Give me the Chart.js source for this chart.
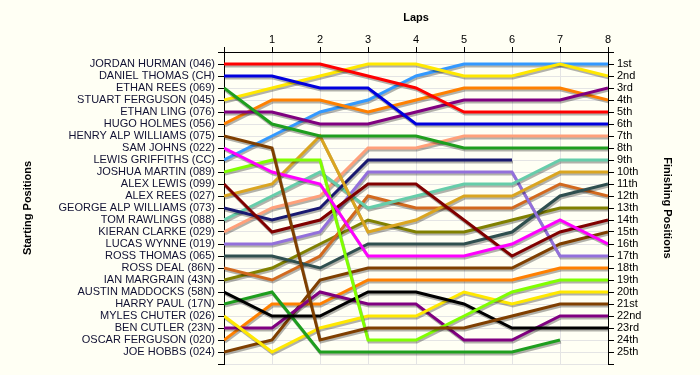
<!DOCTYPE html>
<html>
<head>
<meta charset="utf-8">
<script src="https://cdn.jsdelivr.net/npm/chart.js@4.4.1/dist/chart.umd.min.js"></script>
<style>
    html, body { margin: 0; padding: 0; background: #FFFFF4; }
    #wrap { width: 700px; height: 375px; }
</style>
</head>
<body>
<div id="wrap"><canvas id="lapChart"></canvas></div>
<script>
// Lap numbers (0 = grid / starting order)
const laps = [0, 1, 2, 3, 4, 5, 6, 7, 8];

// Drivers in starting order
const drivers = [
    'JORDAN HURMAN (046)', 'DANIEL THOMAS (CH)', 'ETHAN REES (069)', 'STUART FERGUSON (045)',
    'ETHAN LING (076)', 'HUGO HOLMES (056)', 'HENRY ALP WILLIAMS (075)', 'SAM JOHNS (022)',
    'LEWIS GRIFFITHS (CC)', 'JOSHUA MARTIN (089)', 'ALEX LEWIS (099)', 'ALEX REES (027)',
    'GEORGE ALP WILLIAMS (073)', 'TOM RAWLINGS (088)', 'KIERAN CLARKE (029)', 'LUCAS WYNNE (019)',
    'ROSS THOMAS (065)', 'ROSS DEAL (86N)', 'IAN MARGRAIN (43N)', 'AUSTIN MADDOCKS (58N)',
    'HARRY PAUL (17N)', 'MYLES CHUTER (026)', 'BEN CUTLER (23N)', 'OSCAR FERGUSON (020)',
    'JOE HOBBS (024)'
];

// Finishing position labels (right axis)
const finishLabels = [
    '1st', '2nd', '3rd', '4th', '5th', '6th', '7th', '8th', '9th', '10th',
    '11th', '12th', '13th', '14th', '15th', '16th', '17th', '18th', '19th', '20th',
    '21st', '22nd', '23rd', '24th', '25th'
];

// Position of each driver at the end of each lap (null = retired)
const positions = [
    [1, 1, 1, 2, 3, 5, 5, 5, 5],
    [2, 2, 3, 3, 6, 6, 6, 6, 6],
    [3, 6, 7, 7, 7, 8, 8, 8, 8],
    [4, 3, 2, 1, 1, 2, 2, 1, 2],
    [5, 5, 6, 6, 5, 4, 4, 4, 3],
    [6, 4, 4, 5, 4, 3, 3, 3, 4],
    [7, 8, 24, 23, 23, 23, 22, 21, 21],
    [8, 10, 11, 17, 17, 17, 16, 14, 16],
    [9, 7, 5, 4, 2, 1, 1, 1, 1],
    [10, 9, 9, 24, 24, 22, 20, 19, 19],
    [11, 15, 14, 11, 11, 14, 17, 15, 14],
    [12, 11, 7, 15, 14, 12, 12, 10, 10],
    [13, 14, 13, 9, 9, 9, 9, null, null],
    [14, 12, 10, 13, 12, 11, 11, 9, 9],
    [15, 13, 12, 8, 8, 7, 7, 7, 7],
    [16, 16, 15, 10, 10, 10, 10, 17, 17],
    [17, 17, 18, 16, 16, 16, 15, 12, 11],
    [18, 19, 17, 12, 13, 13, 13, 11, 12],
    [19, 18, 16, 14, 15, 15, 14, 13, 13],
    [20, 22, 22, 20, 20, 21, 23, 23, 23],
    [21, 20, 25, 25, 25, 25, 25, 24, null],
    [22, 25, 23, 22, 22, 20, 21, 20, 20],
    [23, 23, 20, 21, 21, 24, 24, 22, 22],
    [24, 21, 21, 19, 19, 19, 19, 18, 18],
    [25, 24, 19, 18, 18, 18, 18, 16, 15]
];

// Line colour for each driver
const lineColors = [
    '#FF0000', '#0000DD', '#1E9E1E', '#FFE800', '#800080',
    '#FF8000', '#7F3F00', '#FF00FF', '#3399FF', '#80FF00',
    '#800000', '#DAA520', '#191970', '#66CDAA', '#FFA07A',
    '#9370DB', '#2F4F4F', '#D2691E', '#808000', '#000000',
    '#1E9E1E', '#FFE800', '#800080', '#FF8000', '#7F3F00'
];

const FONT = "'Liberation Sans', Arial, sans-serif";
const GRID = '#E4E4E4';

// cream background behind everything
const bgPlugin = {
    id: 'bg',
    beforeDraw(chart) {
        const ctx = chart.ctx;
        ctx.save();
        ctx.fillStyle = '#FFFFF4';
        ctx.fillRect(0, 0, chart.width, chart.height);
        ctx.restore();
    }
};

// grey drop shadow under the lines
const shadowPlugin = {
    id: 'lineShadow',
    beforeDatasetsDraw(chart) {
        const ctx = chart.ctx;
        ctx.save();
        ctx.shadowColor = 'rgba(0, 0, 0, 0.3)';
        ctx.shadowOffsetX = 1;
        ctx.shadowOffsetY = 2;
        ctx.shadowBlur = 0;
    },
    afterDatasetsDraw(chart) {
        chart.ctx.restore();
    }
};

const datasets = drivers.map((name, i) => ({
    label: name,
    data: positions[i],
    borderColor: lineColors[i],
    borderWidth: 3,
    pointRadius: 0,
    tension: 0,
    fill: false
}));

const PAD = { left: 17, right: 22, top: 7, bottom: 11 };

new Chart(document.getElementById('lapChart'), {
    type: 'line',
    data: { labels: laps, datasets: datasets },
    plugins: [bgPlugin, shadowPlugin],
    options: {
        responsive: true,
        maintainAspectRatio: false,
        animation: false,
        layout: { padding: PAD },
        plugins: {
            legend: { display: false },
            tooltip: { enabled: false }
        },
        scales: {
            x: {
                type: 'linear',
                position: 'top',
                min: 0,
                max: 8,
                afterFit(scale) { scale.height = 52 - PAD.top; },
                ticks: {
                    stepSize: 1,
                    padding: 0,
                    color: '#000',
                    font: { family: FONT, size: 11 },
                    callback: v => (v === 0 ? '' : v)
                },
                grid: { color: GRID, tickColor: '#000', tickLength: 5 },
                border: { color: '#000', width: 1 },
                title: {
                    display: true,
                    text: 'Laps',
                    color: '#000',
                    font: { family: FONT, size: 11, weight: 'bold' }
                }
            },
            y: {
                type: 'linear',
                position: 'left',
                reverse: true,
                min: 0,
                max: 26,
                afterFit(scale) { scale.width = 224 - PAD.left; },
                afterBuildTicks(scale) {
                    scale.ticks = [];
                    for (let v = 0; v <= 26; v++) scale.ticks.push({ value: v });
                },
                ticks: {
                    autoSkip: false,
                    padding: 3,
                    color: '#111133',
                    font: { family: FONT, size: 11 },
                    callback: v => drivers[v - 1] || ''
                },
                grid: { color: GRID, tickColor: '#000', tickLength: 6 },
                border: { color: '#000', width: 1 },
                title: {
                    display: true,
                    text: 'Starting Positions',
                    color: '#000',
                    font: { family: FONT, size: 11, weight: 'bold' }
                }
            },
            y2: {
                type: 'linear',
                position: 'right',
                reverse: true,
                min: 0,
                max: 26,
                afterFit(scale) { scale.width = 700 - PAD.right - 608; },
                afterBuildTicks(scale) {
                    scale.ticks = [];
                    for (let v = 0; v <= 26; v++) scale.ticks.push({ value: v });
                },
                ticks: {
                    autoSkip: false,
                    padding: 3,
                    color: '#000',
                    font: { family: FONT, size: 11 },
                    callback: v => finishLabels[v - 1] || ''
                },
                grid: { drawOnChartArea: false, tickColor: '#000', tickLength: 6 },
                border: { color: '#000', width: 1 },
                title: {
                    display: true,
                    text: 'Finishing Positions',
                    color: '#000',
                    font: { family: FONT, size: 11, weight: 'bold' }
                }
            }
        }
    }
});
</script>
</body>
</html>
